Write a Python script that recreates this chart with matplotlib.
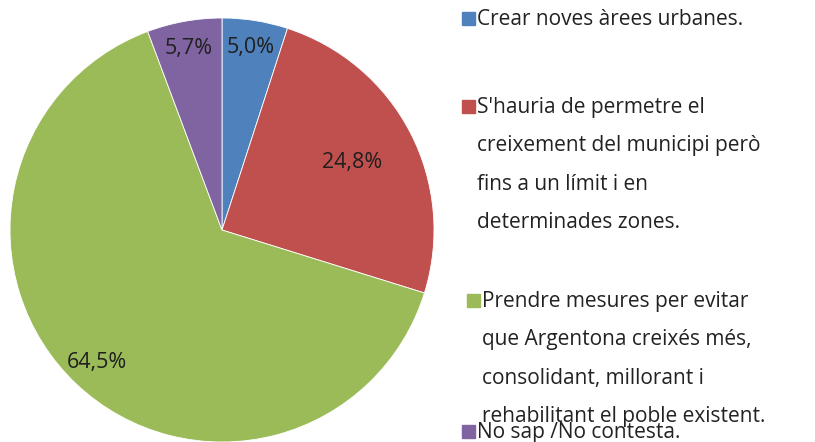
import numpy as np
import matplotlib.pyplot as plt

# Dades de l'enquesta (percentatges)
categories = [
    "Crear noves àrees urbanes.",
    "S'hauria de permetre el\ncreixement del municipi però\nfins a un límit i en\ndeterminades zones.",
    "Prendre mesures per evitar\nque Argentona creixés més,\nconsolidant, millorant i\nrehabilitant el poble existent.",
    "No sap /No contesta.",
]
values = [5.0, 24.8, 64.5, 5.7]
pct_labels = ["5,0%", "24,8%", "64,5%", "5,7%"]
colors = ["#4F81BD", "#C0504D", "#9BBB59", "#8064A2"]

W, H = 815, 442
fig = plt.figure(figsize=(W / 100, H / 100), dpi=100)
ax = fig.add_axes([0, 0, 1, 1])

wedges, texts = ax.pie(values, colors=colors, startangle=90, counterclock=False,
                       center=(222, H - 230), radius=212,
                       wedgeprops=dict(linewidth=0.6, edgecolor="white"))
ax.set_xlim(0, W)
ax.set_ylim(0, H)
ax.set_aspect("equal")
ax.axis("off")

# etiquetes de percentatge dins de cada sector
dist = [0.87, 0.69, 0.86, 0.87]
for w, lab, d in zip(wedges, pct_labels, dist):
    ang = np.deg2rad((w.theta1 + w.theta2) / 2)
    x = w.center[0] + d * w.r * np.cos(ang)
    y = w.center[1] + d * w.r * np.sin(ang)
    ax.text(x, y, lab, ha="center", va="center", fontsize=15.5,
            color="#1f1f1f", family="Open Sans")

# llegenda feta a mà
legend_y = [H - 18, H - 106, H - 300, H - 431]
legend_x = [462, 462, 467, 462]
for cat, col, x, y in zip(categories, colors, legend_x, legend_y):
    ax.add_patch(plt.Rectangle((x, y - 7), 13, 13, color=col))
    ax.text(x + 15, y + 9, cat, ha="left", va="top",
            fontsize=15, family="Open Sans", color="#222222", linespacing=2.08)

fig.savefig("out.png", dpi=100)
